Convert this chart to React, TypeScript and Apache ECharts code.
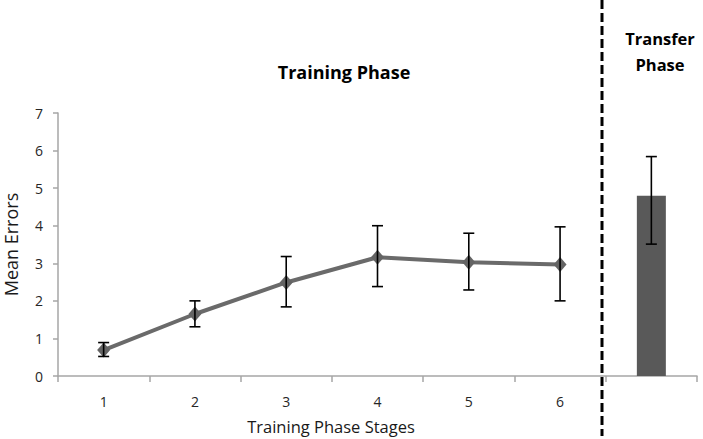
import React, { useEffect, useRef } from "react";
import * as echarts from "echarts";

const categories = ["1", "2", "3", "4", "5", "6", ""];
const trainingMeans = [0.69, 1.65, 2.49, 3.16, 3.03, 2.97];
const trainingLower = [0.52, 1.31, 1.84, 2.38, 2.29, 2.0];
const trainingUpper = [0.89, 2.0, 3.18, 4.0, 3.8, 3.97];
const transferMean = 4.8;
const transferLower = 3.51;
const transferUpper = 5.84;
const yTicks = [0, 1, 2, 3, 4, 5, 6, 7];

export default function App() {
  const ref = useRef<HTMLDivElement>(null);
  useEffect(() => {
    const chart = echarts.init(ref.current!, null, { renderer: "svg" });
    const lineData = categories.map((_, i) => (i < trainingMeans.length ? trainingMeans[i] : "-"));
    const barData = categories.map((_, i) => (i === categories.length - 1 ? transferMean : "-"));
    const errData: any[] = trainingMeans.map((_, i) => [i, trainingLower[i], trainingUpper[i]]);
    errData.push([categories.length - 1, transferLower, transferUpper]);
    const font = "'Open Sans', 'DejaVu Sans', sans-serif";
    chart.setOption({
      animation: false,
      grid: {
        left: 58,
        right: 6,
        top: 113,
        bottom: 63,
        containLabel: false,
        outerBoundsMode: "none",
      },
      xAxis: {
        type: "category",
        data: categories,
        axisLine: { lineStyle: { color: "#a6a6a6", width: 1.5 } },
        axisTick: { show: true, length: 6, lineStyle: { color: "#a6a6a6", width: 1.5 } },
        axisLabel: { margin: 18, fontSize: 14, color: "#262626", fontFamily: font },
      },
      yAxis: {
        type: "value",
        min: yTicks[0],
        max: yTicks[yTicks.length - 1],
        interval: 1,
        name: "Mean Errors",
        nameLocation: "middle",
        nameGap: 38,
        nameTextStyle: { fontSize: 18, color: "#1a1a1a", fontFamily: font },
        axisLine: { show: true, lineStyle: { color: "#a6a6a6", width: 1.5 } },
        axisTick: { show: true, length: 5, lineStyle: { color: "#a6a6a6", width: 1.5 } },
        splitLine: { show: false },
        axisLabel: { margin: 15, fontSize: 14, color: "#262626", fontFamily: font },
      },
      series: [
        {
          type: "bar",
          data: barData,
          barWidth: 29,
          itemStyle: { color: "#595959" },
          z: 2,
        },
        {
          type: "line",
          data: lineData,
          symbol: "diamond",
          symbolSize: [13, 15],
          lineStyle: { color: "#6a6a6a", width: 4 },
          itemStyle: { color: "#646464" },
          z: 3,
        },
        {
          type: "custom",
          data: errData,
          z: 4,
          renderItem: (params: any, api: any) => {
            const x = api.value(0);
            const lo = api.coord([x, api.value(1)]);
            const hi = api.coord([x, api.value(2)]);
            const w = 5.5;
            const style = { stroke: "#000", lineWidth: 1.6 };
            return {
              type: "group",
              children: [
                { type: "line", shape: { x1: lo[0], y1: lo[1], x2: hi[0], y2: hi[1] }, style },
                { type: "line", shape: { x1: lo[0] - w, y1: lo[1], x2: lo[0] + w, y2: lo[1] }, style },
                { type: "line", shape: { x1: hi[0] - w, y1: hi[1], x2: hi[0] + w, y2: hi[1] }, style },
              ],
            };
          },
        },
      ],
      graphic: [
        {
          type: "line",
          shape: { x1: 602, y1: 0, x2: 602, y2: 436 },
          style: { stroke: "#000", lineWidth: 3, lineDash: [9, 4] },
          z: 10,
        },
        {
          type: "text",
          x: 344,
          y: 72,
          style: {
            text: "Training Phase",
            font: `bold 18px ${font}`,
            fill: "#000",
            align: "center",
            verticalAlign: "middle",
          },
        },
        {
          type: "text",
          x: 660,
          y: 51,
          style: {
            text: "Transfer\nPhase",
            font: `bold 16.5px ${font}`,
            lineHeight: 26,
            fill: "#000",
            align: "center",
            verticalAlign: "middle",
          },
        },
        {
          type: "text",
          x: 331,
          y: 426,
          style: {
            text: "Training Phase Stages",
            font: `16.5px ${font}`,
            fill: "#1a1a1a",
            align: "center",
            verticalAlign: "middle",
          },
        },
      ],
    });
    return () => chart.dispose();
  }, []);
  return <div ref={ref} style={{ width: 703, height: 439, position: "absolute", left: 0, top: 0 }} />;
}
